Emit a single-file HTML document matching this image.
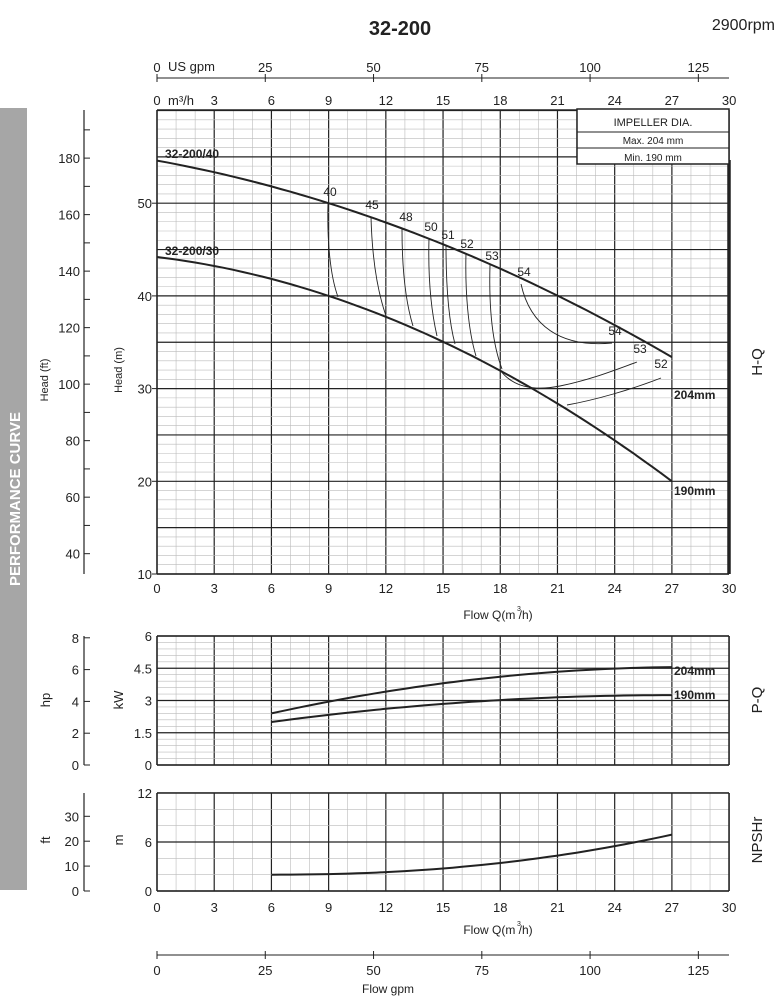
<!DOCTYPE html>
<html><head><meta charset="utf-8"><style>
html,body{margin:0;padding:0;background:#fff;}
svg{display:block;font-family:"Liberation Sans",sans-serif;}
</style></head><body>
<svg id="s" width="780" height="1000" viewBox="0 0 780 1000" xmlns="http://www.w3.org/2000/svg">
<rect x="0" y="0" width="780" height="1000" fill="#fff"/>
<rect x="0" y="108" width="27" height="782" fill="#a6a6a6"/>
<text transform="translate(20,499) rotate(-90)" text-anchor="middle" font-size="15" font-weight="bold" fill="#fff">PERFORMANCE CURVE</text>
<text x="400" y="35" text-anchor="middle" font-size="20" font-weight="bold" fill="#222">32-200</text>
<text x="775" y="30" text-anchor="end" font-size="16" fill="#222">2900rpm</text>
<g id="g"></g>
</svg>
<script>
(function(){
var g=document.getElementById('g'),h='';
function X(q){return 157+q*19.07;}
function L(x1,y1,x2,y2,w,c){h+='<line x1="'+x1+'" y1="'+y1+'" x2="'+x2+'" y2="'+y2+'" stroke="'+(c||'#222')+'" stroke-width="'+w+'"/>';}
function T(x,y,t,s,a,extra){h+='<text x="'+x+'" y="'+y+'" font-size="'+(s||12)+'" text-anchor="'+(a||'middle')+'" fill="#222" '+(extra||'')+'>'+t+'</text>';}
function P(pts,w){h+='<polyline fill="none" stroke="#222" stroke-width="'+w+'" points="'+pts.map(function(p){return p[0].toFixed(1)+','+p[1].toFixed(1)}).join(' ')+'"/>';}
var T0=110,B0=574;function Y(m){return 574-(m-10)*9.27;}
var q,m,i,yy,t,a,b;
for(q=0;q<=30;q++){L(X(q),T0,X(q),B0,q%3?0.6:1.2,q%3?'#bbb':'#222');}
for(m=10;m<=60;m++){yy=Y(m);if(yy<T0-1)continue;L(157,yy,729,yy,m%5?0.6:1.2,m%5?'#bbb':'#222');}
L(157,T0,729,T0,1.5);L(157,B0,729,B0,1.5);L(157,T0,157,B0,1.5);
L(729,160,729,574,3.5);
[0,3,6,9,12,15,18,21,24,27,30].forEach(function(q){T(X(q),593,q,13);if(q>0)T(X(q),105,q,13);});
T(157,105,'0',13);T(168,105,'m³/h',13,'start');
T(498,619,'Flow  Q(m /h)',12);T(519,611,'3',7);
L(157,78,729,78,1);
[0,25,50,75,100,125].forEach(function(g2){var x=X(g2*0.2271);L(x,74,x,82,1);T(x,72,g2,13);});
T(168,71,'US gpm',13,'start');
[10,20,30,40,50].forEach(function(m){T(152,Y(m)+5,m,13,'end');L(152,Y(m),157,Y(m),1);});
T(0,0,'Head (m)',11,'middle','transform="translate(122,370) rotate(-90)"');
L(84,110,84,574,1.2);
for(var f=30;f<=190;f+=10){yy=574-(f*0.3048-10)*9.27;if(yy<110||yy>574)continue;L(84,yy,90,yy,1);if(f%20==0)T(80,yy+5,f,13,'end');}
T(0,0,'Head (ft)',11,'middle','transform="translate(48,380) rotate(-90)"');
T(0,0,'H-Q',15,'middle','transform="translate(762,362) rotate(-90)"');
function H1(q){return 54.6-0.374*q-0.01523*q*q;}function H2(q){return 44.2-0.2518*q-0.02387*q*q;}
a=[];b=[];for(q=0;q<=27.01;q+=0.5){a.push([X(q),Y(H1(q))]);b.push([X(q),Y(H2(q))]);}
P(a,2);P(b,2);
T(165,158,'32-200/40',12,'start','font-weight="bold"');
T(165,255,'32-200/30',12,'start','font-weight="bold"');
T(674,399,'204mm',12,'start','font-weight="bold"');
T(674,495,'190mm',12,'start','font-weight="bold"');
function C(d){h+='<path d="'+d+'" fill="none" stroke="#222" stroke-width="0.9"/>';}
C('M328,203 C327,240 330,275 338,297');
C('M371,217 C372,255 377,290 386,316');
C('M402,229 C402,265 405,300 413,326');
C('M429,238 C428,275 431,310 437,336');
C('M446,245 C446,282 448,318 455,344');
C('M466,253 C465,290 468,330 476,356');
C('M490,265 C489,300 491,340 502,369');
C('M521,284 C530,325 560,348 612,343');
C('M500,370 C515,390 540,390 560,386 C590,380 615,370 637,362');
C('M567,405 C595,400 630,390 661,378');
[[330,196,'40'],[372,209,'45'],[406,221,'48'],[431,231,'50'],[448,239,'51'],[467,248,'52'],[492,260,'53'],[524,276,'54'],[615,335,'54'],[640,353,'53'],[661,368,'52']].forEach(function(t){T(t[0],t[1],t[2],12);});
h+='<rect x="577" y="109" width="152" height="55" fill="#fff" stroke="#222" stroke-width="1.5"/>';
L(577,132,729,132,1);L(577,148,729,148,1);
T(653,126,'IMPELLER DIA.',11);T(653,144,'Max.  204 mm',10);T(653,161,'Min.  190 mm',10);
function YP(k){return 765-k*21.5;}
for(q=0;q<=30;q++)L(X(q),636,X(q),765,q%3?0.6:1.2,q%3?'#bbb':'#222');
for(i=0;i<=20;i++){yy=YP(i*0.3);L(157,yy,729,yy,i%5?0.6:1.2,i%5?'#bbb':'#222');}
L(157,636,729,636,1.5);L(157,765,729,765,1.5);L(157,636,157,765,1.5);L(729,636,729,765,1.5);
['0','1.5','3','4.5','6'].forEach(function(t,i){T(152,YP(i*1.5)+5,t,13,'end');});
T(0,0,'kW',13,'middle','transform="translate(123,700) rotate(-90)"');
L(84,636,84,765,1.2);
[0,2,4,6,8].forEach(function(p){var yy=765-p*15.9;L(84,yy,90,yy,1);T(79,yy+5,p,13,'end');});
T(0,0,'hp',13,'middle','transform="translate(50,700) rotate(-90)"');
T(0,0,'P-Q',15,'middle','transform="translate(762,700) rotate(-90)"');
a=[];b=[];for(q=6;q<=27.01;q+=0.5){t=(q-6)/21;a.push([X(q),YP(2.4+2.05*(2*t-t*t*0.95))]);b.push([X(q),YP(2.0+1.25*(2*t-t*t))]);}
P(a,2);P(b,2);
T(674,675,'204mm',12,'start','font-weight="bold"');T(674,699,'190mm',12,'start','font-weight="bold"');
function YN(m){return 891-m*8.17;}
for(q=0;q<=30;q++)L(X(q),793,X(q),891,q%3?0.6:1.2,q%3?'#bbb':'#222');
for(i=0;i<=6;i++){yy=YN(i*2);L(157,yy,729,yy,i%3?0.6:1.2,i%3?'#bbb':'#222');}
L(157,793,729,793,1.5);L(157,891,729,891,1.5);L(157,793,157,891,1.5);L(729,793,729,891,1.5);
['0','6','12'].forEach(function(t,i){T(152,YN(i*6)+5,t,13,'end');});
T(0,0,'m',13,'middle','transform="translate(123,840) rotate(-90)"');
L(84,793,84,891,1.2);
[0,10,20,30].forEach(function(f){var yy=891-f*2.49;L(84,yy,90,yy,1);T(79,yy+5,f,13,'end');});
T(0,0,'ft',13,'middle','transform="translate(50,840) rotate(-90)"');
T(0,0,'NPSHr',15,'middle','transform="translate(762,840) rotate(-90)"');
a=[];for(q=6;q<=27.01;q+=0.5){t=(q-6)/21;a.push([X(q),YN(2.0+4.9*Math.pow(t,2.2))]);}
P(a,2);
[0,3,6,9,12,15,18,21,24,27,30].forEach(function(q){T(X(q),912,q,13);});
T(498,934,'Flow  Q(m /h)',12);T(519,926,'3',7);
L(157,955,729,955,1);
[0,25,50,75,100,125].forEach(function(g2){var x=X(g2*0.2271);L(x,951,x,959,1);T(x,975,g2,13);});
T(388,993,'Flow gpm',12);
g.innerHTML=h;
})();
</script>
</body></html>
